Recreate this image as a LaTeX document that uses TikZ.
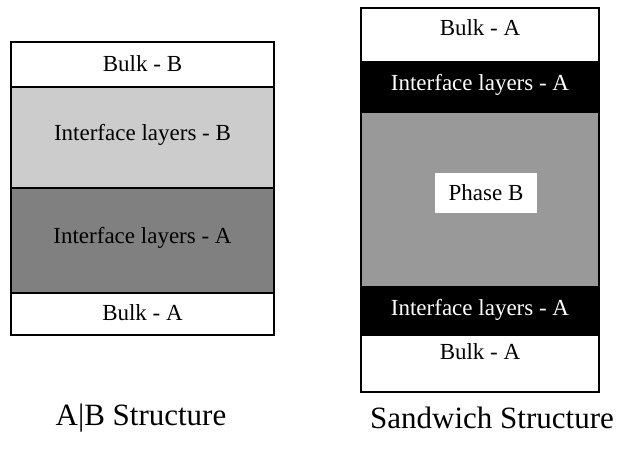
\documentclass[tikz,border=0pt]{standalone}
\usepackage{fontspec}
\setmainfont{Liberation Serif}
\begin{document}
\begin{tikzpicture}[x=1pt,y=-1pt,
  layer/.style={line width=2.6pt},
  lbl/.style={font=\fontsize{23}{26}\selectfont, inner sep=0pt},
  captxt/.style={font=\fontsize{31}{34}\selectfont, inner sep=0pt},
  ifaceB/.style={fill=black!20},
  ifaceA/.style={fill=black!50},
  phaseB/.style={fill=black!40},
  darkA/.style={fill=black}]
\useasboundingbox (0,0) rectangle (629,456);
% ---------- A|B structure ----------
\filldraw[layer, fill=white] (11,42) rectangle (274,87);
\filldraw[layer, ifaceB] (11,87) rectangle (274,188);
\filldraw[layer, ifaceA] (11,188) rectangle (274,293);
\filldraw[layer, fill=white] (11,293) rectangle (274,335);
\node[lbl] (lbB) at (142.5,64) {Bulk - B};
\node[lbl] (liB) at (142.5,135) {Interface layers - B};
\node[lbl] (liA) at (142.5,238) {Interface layers - A};
\node[lbl] (lbA) at (142.5,313) {Bulk - A};
\node[captxt] (capAB) at (141,418) {A|B Structure};
% ---------- Sandwich structure ----------
\filldraw[layer, fill=white] (361,8) rectangle (599,62);
\filldraw[layer, darkA] (361,62) rectangle (599,112);
\filldraw[layer, phaseB] (361,112) rectangle (599,287);
\filldraw[layer, darkA] (361,287) rectangle (599,335);
\filldraw[layer, fill=white] (361,335) rectangle (599,392);
\node[lbl] (sbA1) at (480,28) {Bulk - A};
\node[lbl, text=white] (siA1) at (480,85) {Interface layers - A};
\node[lbl, fill=white, minimum width=102pt, minimum height=40pt] (sph) at (486,193) {Phase B};
\node[lbl, text=white] (siA2) at (480,310) {Interface layers - A};
\node[lbl] (sbA2) at (480,352) {Bulk - A};
\node[captxt] (capS) at (492,418) {Sandwich Structure};
\end{tikzpicture}
\end{document}
